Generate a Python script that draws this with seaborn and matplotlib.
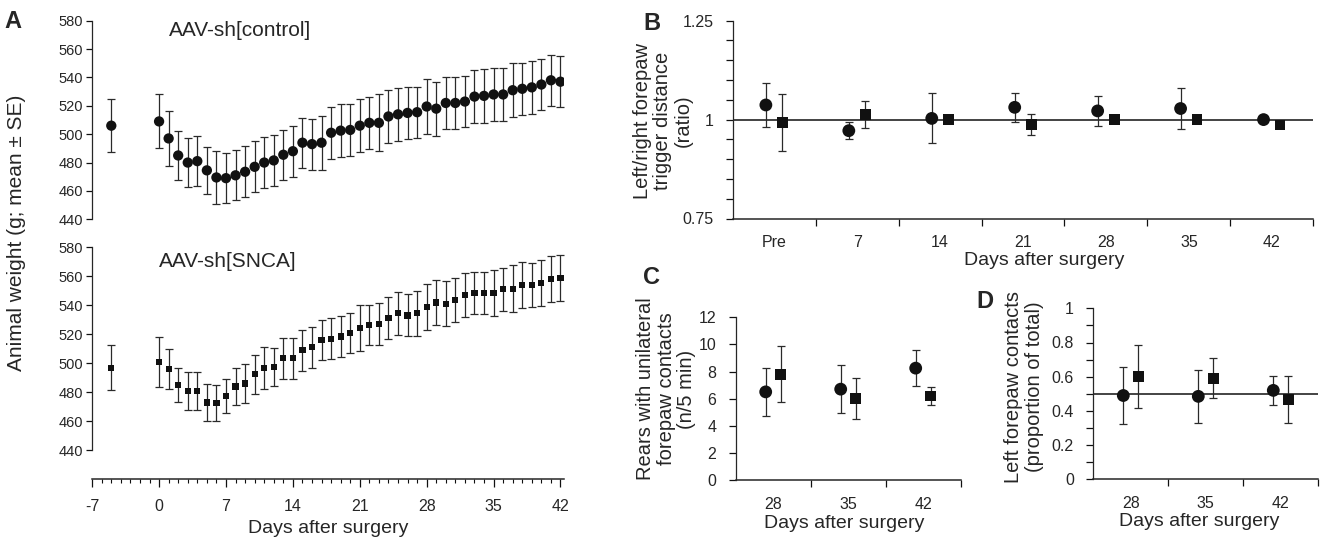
import pandas as pd
import matplotlib
matplotlib.use("Agg")
import matplotlib.pyplot as plt
import seaborn as sns
from matplotlib.ticker import MultipleLocator, FixedLocator

# ---- Panel A: animal weight (g), mean and SE per day after surgery ----
days = [-5, 0, 1, 2, 3, 4, 5, 6, 7, 8, 9, 10, 11, 12, 13, 14, 15, 16, 17, 18, 19, 20,
        21, 22, 23, 24, 25, 26, 27, 28, 29, 30, 31, 32, 33, 34, 35, 36, 37, 38, 39, 40, 41, 42]
ctrl_mean = [506, 509, 497, 485, 480, 481, 474.5, 469.5, 469, 471, 473.5,
             477, 480, 481.5, 485.5, 488, 494, 493, 494, 501, 502.5,
             503, 506, 508, 508, 512.5, 514, 515, 515.5, 519.5, 518,
             522, 522, 523, 526.5, 527, 528, 528, 531, 532, 533,
             535, 538, 537]
ctrl_se = [18.5, 19, 19.5, 17, 17.5, 17.5, 16.5, 18.5, 17.5, 17.5, 18,
           18, 18, 18, 17.5, 18, 17.5, 18, 19, 18.5, 18.5,
           18.5, 18.5, 18.5, 20, 19, 18.5, 18.5, 18, 19.5, 19,
           18, 18, 18, 18.5, 19, 19, 18.5, 19, 18.5, 18.5,
           18, 18, 18]
snca_mean = [497, 501, 496, 485, 481, 481, 473, 472.5, 477.5, 484, 486,
             492.5, 496.5, 497.5, 503.5, 503.5, 509, 511, 516, 517, 518.5,
             521, 524.5, 526.5, 527, 531, 534.5, 533, 534.5, 539, 542,
             541, 543.5, 547, 548.5, 548.5, 548.5, 551, 551.5, 554, 554,
             555.5, 558, 559]
snca_se = [15.5, 17, 14, 12, 13, 13, 12.5, 12.5, 12, 13, 13.5,
           13.5, 14.5, 13, 14, 14, 14, 14, 14, 14, 14,
           14, 16, 14, 14.5, 14.5, 15, 14.5, 15.5, 16, 15.5,
           15.5, 15, 15, 14.5, 14.5, 16, 15, 16, 16, 15,
           16, 16, 16]

# ---- Panel B: left/right forepaw trigger distance ratio ----
b_days = ["Pre", "7", "14", "21", "28", "35", "42"]
b_ctrl_mean = [1.037, 0.972, 1.003, 1.031, 1.022, 1.028, 1.000]
b_ctrl_se = [0.055, 0.022, 0.063, 0.037, 0.038, 0.051, 0.004]
b_snca_mean = [0.993, 1.013, 1.000, 0.987, 1.000, 1.000, 0.986]
b_snca_se = [0.072, 0.033, 0.005, 0.027, 0.004, 0.004, 0.006]

# ---- Panel C: rears with unilateral forepaw contacts ----
c_days = ["28", "35", "42"]
c_ctrl_mean = [6.5, 6.7, 8.25]
c_ctrl_se = [1.75, 1.75, 1.35]
c_snca_mean = [7.8, 6.0, 6.2]
c_snca_se = [2.05, 1.5, 0.65]

# ---- Panel D: left forepaw contacts (proportion of total) ----
d_days = ["28", "35", "42"]
d_ctrl_mean = [0.49, 0.485, 0.52]
d_ctrl_se = [0.168, 0.155, 0.087]
d_snca_mean = [0.60, 0.59, 0.467]
d_snca_se = [0.185, 0.117, 0.135]

sns.set_style("ticks")
plt.rcParams["font.family"] = ["Liberation Sans", "DejaVu Sans"]
plt.rcParams["axes.unicode_minus"] = False
NARROW = ["Liberation Sans Narrow", "Liberation Sans", "DejaVu Sans"]
INK = "#111111"
BAR = "#2a2a2a"

fig = plt.figure(figsize=(13.24, 5.4), dpi=100)
W, H = 1324, 540


def box(x0, y0, x1, y1):
    # pixel box (top-left origin) -> figure fraction rect
    return [x0 / W, 1 - y1 / H, (x1 - x0) / W, (y1 - y0) / H]


ax_a1 = fig.add_axes(box(91.7, 20.7, 564.3, 219.3))
ax_a2 = fig.add_axes(box(91.7, 247.3, 564.3, 479.3))
ax_b = fig.add_axes(box(732.7, 20.7, 1313.3, 218.5))
ax_c = fig.add_axes(box(735.7, 317.3, 960.7, 480))
ax_d = fig.add_axes(box(1093.3, 308.3, 1318.3, 479.3))

# ---- Panel A ----
df_a = pd.DataFrame({"day": days, "ctrl": ctrl_mean, "ctrl_se": ctrl_se,
                     "snca": snca_mean, "snca_se": snca_se})
for ax, col, marker, size in [(ax_a1, "ctrl", "o", 55), (ax_a2, "snca", "s", 20)]:
    ax.errorbar(df_a["day"], df_a[col], yerr=df_a[col + "_se"], fmt="none",
                ecolor=BAR, elinewidth=0.9, capsize=3, capthick=0.9, zorder=2)
    sns.scatterplot(data=df_a, x="day", y=col, marker=marker, s=size, color=INK,
                    edgecolor="none", ax=ax, zorder=3, legend=False)
    ax.set_xlim(-7.05, 42.4)
    ax.yaxis.set_major_locator(MultipleLocator(20))
    ax.tick_params(axis="y", length=4, width=0.9, pad=2, labelsize=10.5, color=INK)
    ax.set_xlabel("")
    ax.set_ylabel("")
    for s in ["top", "right"]:
        ax.spines[s].set_visible(False)
    ax.spines["left"].set_linewidth(0.9)

ax_a1.set_ylim(440, 580)
ax_a1.spines["bottom"].set_visible(False)
ax_a1.tick_params(axis="x", bottom=False, labelbottom=False)

ax_a2.set_ylim(420, 580)
ax_a2.spines["left"].set_bounds(440, 580)
ax_a2.set_yticks([440, 460, 480, 500, 520, 540, 560, 580])
ax_a2.spines["bottom"].set_linewidth(1.1)
ax_a2.xaxis.set_major_locator(FixedLocator([-7, 0, 7, 14, 21, 28, 35, 42]))
ax_a2.xaxis.set_minor_locator(MultipleLocator(1))
ax_a2.tick_params(axis="x", which="major", length=5.5, width=0.9, pad=9,
                  labelsize=11.5, labelfontfamily=NARROW, color=INK)
ax_a2.tick_params(axis="x", which="minor", length=3, width=0.8, color=INK)
ax_a2.set_xlabel("Days after surgery", fontsize=14)
ax_a2.xaxis.set_label_coords(0.5, -0.175)

ax_a1.text(1.0, 573, "AAV-sh[control]", fontsize=15, ha="left", va="center")
ax_a2.text(0.0, 570, "AAV-sh[SNCA]", fontsize=15, ha="left", va="center")
fig.text(17 / W, 1 - 233 / H, "Animal weight (g; mean \u00b1 SE)", rotation=90,
         ha="center", va="center", fontsize=15)


# ---- Panels B, C, D (category groups, control = circles, SNCA = squares) ----
def group_panel(ax, cats, cm, cs, sm, ss, ref=None):
    n = len(cats)
    rows = []
    for i, c in enumerate(cats):
        rows.append({"pos": i - 0.1, "val": cm[i], "se": cs[i], "grp": "control"})
        rows.append({"pos": i + 0.1, "val": sm[i], "se": ss[i], "grp": "SNCA"})
    df = pd.DataFrame(rows)
    if ref is not None:
        ax.axhline(ref, color=INK, lw=1.1, zorder=1)
    ax.errorbar(df["pos"], df["val"], yerr=df["se"], fmt="none", ecolor=BAR,
                elinewidth=0.9, capsize=2.8, capthick=0.9, zorder=2)
    sns.scatterplot(data=df, x="pos", y="val", style="grp",
                    markers={"control": "o", "SNCA": "s"}, size="grp",
                    sizes={"control": 85, "SNCA": 58}, color=INK,
                    edgecolor="none", ax=ax, zorder=3, legend=False)
    ax.set_xlim(-0.5, n - 0.5)
    ax.set_xticks(range(n))
    ax.set_xticklabels(cats)
    ax.xaxis.set_minor_locator(FixedLocator([i + 0.5 for i in range(n)]))
    ax.tick_params(axis="x", which="major", length=0, pad=12, labelsize=11.5,
                   labelfontfamily=NARROW)
    ax.tick_params(axis="x", which="minor", length=5, width=0.9, color=INK)
    ax.tick_params(axis="y", which="both", length=5, width=0.9, pad=9,
                   labelsize=11.5, labelfontfamily=NARROW, color=INK)
    ax.set_xlabel("Days after surgery", fontsize=14)
    ax.set_ylabel("")
    for s in ["top", "right"]:
        ax.spines[s].set_visible(False)
    ax.spines["left"].set_linewidth(0.9)
    ax.spines["bottom"].set_linewidth(1.1)


group_panel(ax_b, b_days, b_ctrl_mean, b_ctrl_se, b_snca_mean, b_snca_se, ref=1.0)
ax_b.set_ylim(0.75, 1.25)
ax_b.set_yticks([0.75, 1.0, 1.25])
ax_b.set_yticklabels(["0.75", "1", "1.25"])
ax_b.yaxis.set_minor_locator(MultipleLocator(0.05))
ax_b.xaxis.set_label_coords(0.536, -0.17)

group_panel(ax_c, c_days, c_ctrl_mean, c_ctrl_se, c_snca_mean, c_snca_se)
ax_c.set_ylim(0, 12)
ax_c.yaxis.set_major_locator(MultipleLocator(2))
ax_c.xaxis.set_label_coords(0.48, -0.215)

group_panel(ax_d, d_days, d_ctrl_mean, d_ctrl_se, d_snca_mean, d_snca_se, ref=0.5)
ax_d.set_ylim(0, 1)
ax_d.set_yticks([0, 0.2, 0.4, 0.6, 0.8, 1.0])
ax_d.set_yticklabels(["0", "0.2", "0.4", "0.6", "0.8", "1"])
ax_d.yaxis.set_minor_locator(MultipleLocator(0.1))
ax_d.xaxis.set_label_coords(0.47, -0.2)

fig.text(663 / W, 1 - 121 / H, "Left/right forepaw\ntrigger distance\n(ratio)",
         rotation=90, ha="center", va="center", fontsize=14.5, linespacing=1.1)
fig.text(666 / W, 1 - 389 / H, "Rears with unilateral\nforepaw contacts\n(n/5 min)",
         rotation=90, ha="center", va="center", fontsize=14.5, linespacing=1.1)
fig.text(1024 / W, 1 - 387 / H, "Left forepaw contacts\n(proportion of total)",
         rotation=90, ha="center", va="center", fontsize=14.5, linespacing=1.1)

# panel letters
for x, y, letter in [(13, 22, "A"), (652, 23, "B"), (652, 278, "C"), (985, 302, "D")]:
    fig.text(x / W, 1 - y / H, letter, fontsize=17, fontweight="bold",
             ha="center", va="center")

fig.savefig("out.png", dpi=100)
